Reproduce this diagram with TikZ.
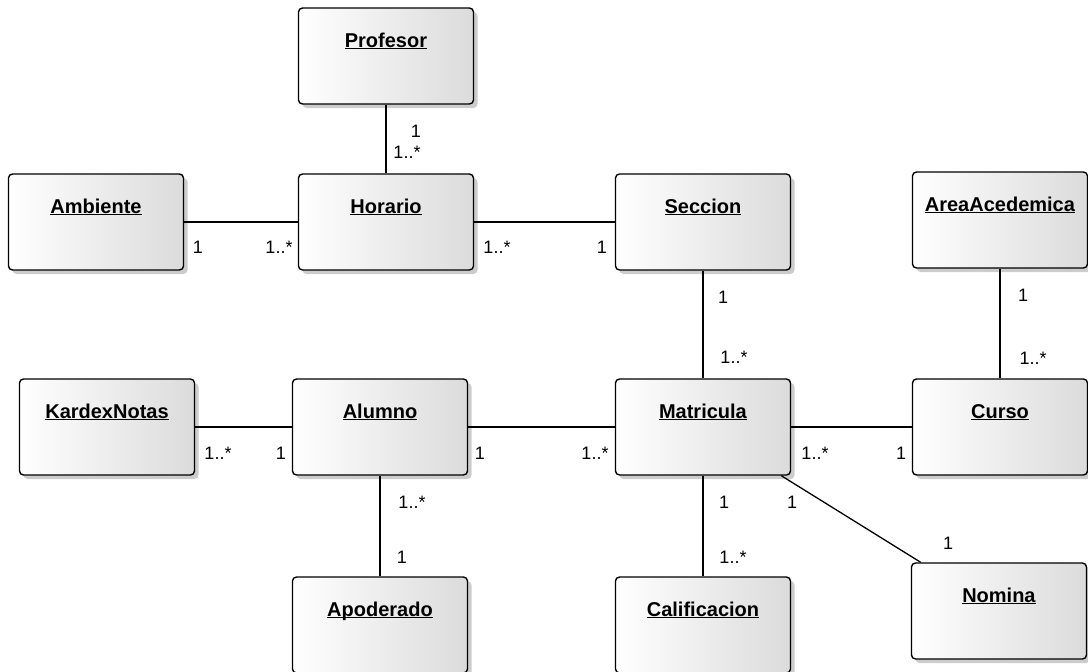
\documentclass[tikz,border=0pt]{standalone}
\usepackage{fontspec}
\setmainfont{Liberation Sans}
\usetikzlibrary{shadows}
\newcommand{\clsname}[1]{\underline{\smash{\textbf{#1}}}}

\begin{document}
\begin{tikzpicture}[x=1pt,y=-1pt,
    clase/.style={draw=black,line width=1.4pt,rounded corners=4pt,
        left color=white,right color=black!14,
        drop shadow={shadow xshift=4pt,shadow yshift=-4pt,fill=black,opacity=0.2},
        minimum width=175pt,minimum height=96pt,inner xsep=4pt,inner ysep=12pt,
        text height=27pt,text depth=45pt,font=\fontsize{20}{24}\selectfont},
    mult/.style={inner sep=0pt,font=\fontsize{18}{22}\selectfont},
    assoc/.style={line width=1.3pt}]
\useasboundingbox (0,0) rectangle (1088,672);
%------------------------------
% clases
%______________________________
\node[clase] (prof) at (386,56) {\clsname{Profesor}};
\node[clase] (amb) at (96,222) {\clsname{Ambiente}};
\node[clase] (hor) at (386,222) {\clsname{Horario}};
\node[clase] (sec) at (703,222) {\clsname{Seccion}};
\node[clase] (area) at (1000,220) {\clsname{AreaAcedemica}};
\node[clase] (kar) at (107,427) {\clsname{KardexNotas}};
\node[clase] (alu) at (380,427) {\clsname{Alumno}};
\node[clase] (mat) at (703,427) {\clsname{Matricula}};
\node[clase] (cur) at (1000,427) {\clsname{Curso}};
\node[clase] (apo) at (380,625) {\clsname{Apoderado}};
\node[clase] (cal) at (703,625) {\clsname{Calificacion}};
\node[clase] (nom) at (999,611) {\clsname{Nomina}};
%
%------------------------------
% asociaciones
%______________________________
\draw[assoc] (prof) -- (hor);
\draw[assoc] (amb) -- (hor);
\draw[assoc] (hor) -- (sec);
\draw[assoc] (sec) -- (mat);
\draw[assoc] (area) -- (cur);
\draw[assoc] (kar) -- (alu);
\draw[assoc] (alu) -- (mat);
\draw[assoc] (mat) -- (cur);
\draw[assoc] (alu) -- (apo);
\draw[assoc] (mat) -- (cal);
\draw[assoc] (mat) -- (nom);
%
%------------------------------
% multiplicidades
%______________________________
\node[mult] (mprof) at (416,131) {1};
\node[mult] (mhor1) at (407,152) {1..*};
\node[mult] (mamb) at (198,247) {1};
\node[mult] (mhor2) at (279,247) {1..*};
\node[mult] (mhor3) at (497,247) {1..*};
\node[mult] (msec1) at (602,247) {1};
\node[mult] (msec2) at (723,297) {1};
\node[mult] (mmat1) at (734,357) {1..*};
\node[mult] (marea) at (1023,295) {1};
\node[mult] (mcur1) at (1033,358) {1..*};
\node[mult] (mkar) at (218,453) {1..*};
\node[mult] (malu1) at (281,453) {1};
\node[mult] (malu2) at (480,453) {1};
\node[mult] (mmat2) at (595,453) {1..*};
\node[mult] (mmat3) at (815,453) {1..*};
\node[mult] (mcur2) at (901,453) {1};
\node[mult] (malu3) at (412,502) {1..*};
\node[mult] (mapo) at (402,557) {1};
\node[mult] (mmat4) at (724,502) {1};
\node[mult] (mcal) at (733,557) {1..*};
\node[mult] (mmat5) at (792,502) {1};
\node[mult] (mnom) at (948,543) {1};
\end{tikzpicture}
\end{document}
